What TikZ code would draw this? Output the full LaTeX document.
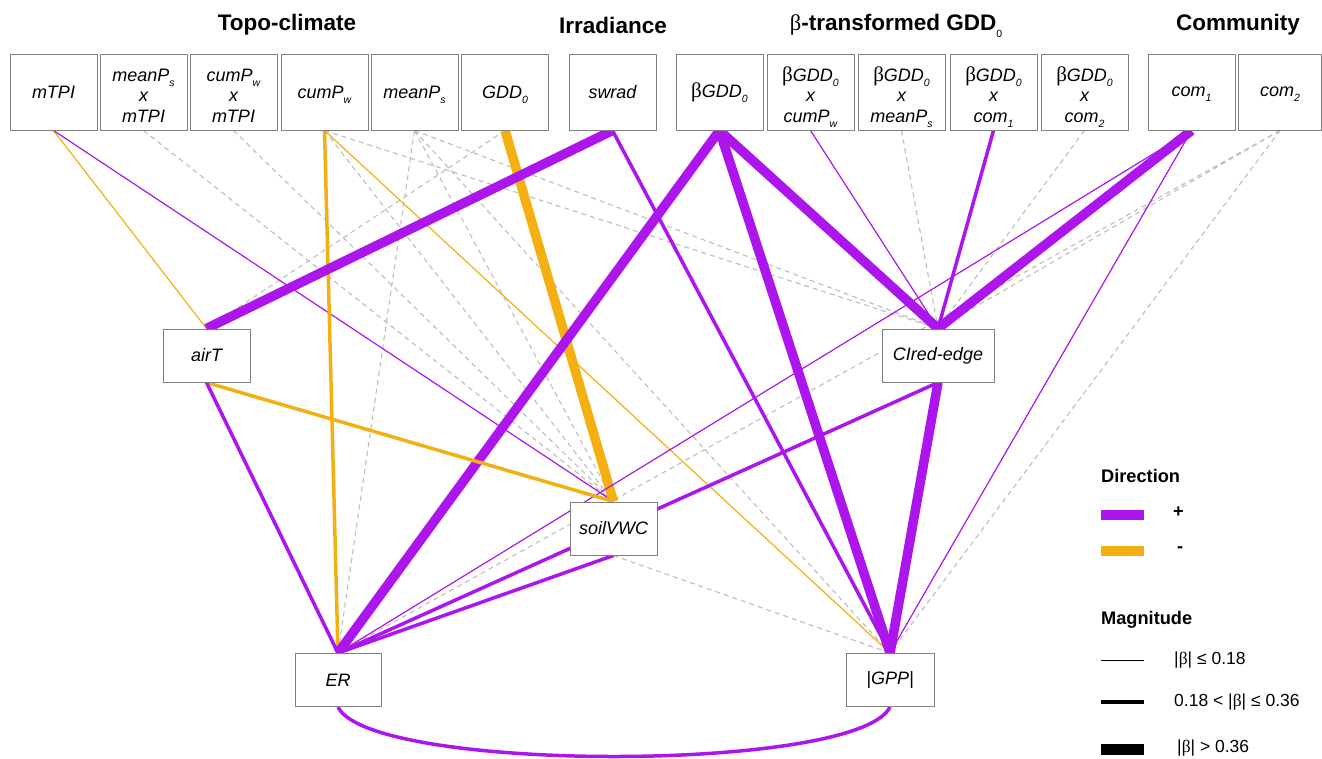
\documentclass[tikz,border=0pt]{standalone}
\usepackage{fontspec}
\setmainfont{Liberation Sans}
\newfontfamily\serifb{Liberation Serif}
\usetikzlibrary{backgrounds}
\definecolor{purp}{HTML}{AC16EC}
\definecolor{orng}{HTML}{F4B012}
\definecolor{nsgray}{HTML}{BDBDBD}
\definecolor{boxgray}{HTML}{7F7F7F}
\newcommand\mysub[1]{\smash{\raisebox{-0.55ex}{\fontsize{10.5}{10.5}\selectfont #1}}}
\newcommand\bet{{\serifb\upshape\fontsize{21}{21}\selectfont β}}
\newcommand\betsm{{\serifb\upshape β}}
\newcommand\dn{\rule{0pt}{19.5pt}}
\begin{document}
\begin{tikzpicture}[x=1pt,y=-1pt,
  topbox/.style={draw=boxgray, line width=1pt, fill=white, minimum width=87pt, minimum height=76pt, inner sep=0pt, align=center, font=\fontsize{18}{20.5}\selectfont\itshape},
  midbox/.style={topbox, minimum height=53pt},
  hdr/.style={font=\fontsize{22.5}{24}\selectfont\bfseries},
  legt/.style={anchor=west, inner sep=0pt, font=\fontsize{17.5}{20}\selectfont},
  legh/.style={anchor=west, inner sep=0pt, font=\fontsize{18.2}{20}\selectfont\bfseries},
  posl/.style={draw=purp}, negl/.style={draw=orng},
  wa/.style={line width=1.2pt}, wb/.style={line width=3.5pt}, wc/.style={line width=9.5pt},
  nsl/.style={draw=nsgray, line width=1.1pt, dash pattern=on 5pt off 4pt}]
\useasboundingbox (0,0) rectangle (1322,758);

% headers
\node[hdr] (hTopo) at (287,25) {Topo-climate};
\node[hdr] (hIrr) at (613,25) {Irradiance};
\node[hdr] (hBeta) at (896,25) {{\serifb\mdseries β}-transformed GDD\mysub{\mdseries 0}};
\node[hdr] (hCom) at (1238,25) {Community};

% top boxes
\node[topbox] (mTPI) at (53.5,92) {mTPI};
\node[topbox] (mPsmTPI) at (143.5,92) {\dn meanP\mysub{s}\\x\\mTPI};
\node[topbox] (cPwmTPI) at (233.5,92) {\dn cumP\mysub{w}\\x\\mTPI};
\node[topbox] (cumPw) at (324.5,92) {cumP\mysub{w}};
\node[topbox] (meanPs) at (414.5,92) {meanP\mysub{s}};
\node[topbox] (GDD) at (505,92) {GDD\mysub{0}};
\node[topbox] (swrad) at (612.5,92) {swrad};
\node[topbox] (bGDD) at (719.5,92) {\bet GDD\mysub{0}};
\node[topbox] (bGcPw) at (810.5,92) {\dn\bet GDD\mysub{0}\\x\\cumP\mysub{w}};
\node[topbox] (bGmPs) at (901.5,92) {\dn\bet GDD\mysub{0}\\x\\meanP\mysub{s}};
\node[topbox] (bGcomA) at (993.5,92) {\dn\bet GDD\mysub{0}\\x\\com\mysub{1}};
\node[topbox] (bGcomB) at (1084.5,92) {\dn\bet GDD\mysub{0}\\x\\com\mysub{2}};
\node[topbox] (comA) at (1191.5,92) {com\mysub{1}};
\node[topbox, minimum width=83pt] (comB) at (1280,92) {com\mysub{2}};

% response boxes
\node[midbox] (airT) at (206.5,355.5) {airT};
\node[midbox, minimum width=112pt] (CI) at (938,355.5) {CIred-edge};
\node[midbox] (soil) at (613.5,528.5) {soilVWC};
\node[midbox, minimum width=86pt] (ER) at (338,680) {ER};
\node[midbox, minimum width=88pt] (GPP) at (890,680) {|GPP|};

\begin{pgfonlayer}{background}
% non-significant paths
\draw[nsl] (mPsmTPI.south) -- (soil.north);
\draw[nsl] (cPwmTPI.south) -- (soil.north);
\draw[nsl] (cumPw.south) -- (soil.north);
\draw[nsl] (cumPw.south) -- (CI.north);
\draw[nsl] (meanPs.south) -- (ER.north);
\draw[nsl] (meanPs.south) -- (soil.north);
\draw[nsl] (meanPs.south) -- (CI.north);
\draw[nsl] (meanPs.south) -- (GPP.north);
\draw[nsl] (GDD.south) -- (airT.north);
\draw[nsl] (bGmPs.south) -- (CI.north);
\draw[nsl] (bGcomB.south) -- (CI.north);
\draw[nsl] (comB.south) -- (CI.north);
\draw[nsl] (comB.south) -- (ER.north);
\draw[nsl] (comB.south) -- (GPP.north);
\draw[nsl] (soil.south) -- (GPP.north);
% significant paths
\draw[negl,wa] (mTPI.south) -- (airT.north);
\draw[posl,wa] (mTPI.south) -- (soil.north);
\draw[negl,wb] (cumPw.south) -- (ER.north);
\draw[negl,wa] (cumPw.south) -- (GPP.north);
\draw[negl,wc] (GDD.south) -- (soil.north);
\draw[posl,wc] (swrad.south) -- (airT.north);
\draw[posl,wb] (swrad.south) -- (GPP.north);
\draw[posl,wc] (bGDD.south) -- (ER.north);
\draw[posl,wc] (bGDD.south) -- (GPP.north);
\draw[posl,wc] (bGDD.south) -- (CI.north);
\draw[posl,wa] (bGcPw.south) -- (CI.north);
\draw[posl,wb] (bGcomA.south) -- (CI.north);
\draw[posl,wc] (comA.south) -- (CI.north);
\draw[posl,wa] (comA.south) -- (ER.north);
\draw[posl,wa] (comA.south) -- (GPP.north);
\draw[negl,wb] (airT.south) -- (soil.north);
\draw[posl,wb] (airT.south) -- (ER.north);
\draw[posl,wb] (CI.south) -- (ER.north);
\draw[posl,wc] (CI.south) -- (GPP.north);
\draw[posl,wb] (soil.south) -- (ER.north);
\draw[posl,wb] (ER.south) .. controls (370,773) and (858,773) .. (GPP.south);
\end{pgfonlayer}

% legend
\node[legh] (lDir) at (1101,476) {Direction};
\coordinate (lpA) at (1101,515);
\coordinate (lpB) at (1144,515);
\draw[purp, line width=10pt] (lpA) -- (lpB);
\node[legh] (lPlus) at (1173,512) {+};
\coordinate (loA) at (1101,551);
\coordinate (loB) at (1144,551);
\draw[orng, line width=10pt] (loA) -- (loB);
\node[legh] (lMinus) at (1177,550) {-};
\node[legh] (lMag) at (1101,620) {Magnitude};
\coordinate (lmA1) at (1101,660);
\coordinate (lmB1) at (1144,660);
\draw[black, line width=1pt] (lmA1) -- (lmB1);
\node[legt] (lm1) at (1174,660) {|\betsm| ≤ 0.18};
\coordinate (lmA2) at (1101,702);
\coordinate (lmB2) at (1144,702);
\draw[black, line width=4pt] (lmA2) -- (lmB2);
\node[legt] (lm2) at (1174,702) {0.18 < |\betsm| ≤ 0.36};
\coordinate (lmA3) at (1101,749);
\coordinate (lmB3) at (1144,749);
\draw[black, line width=11pt] (lmA3) -- (lmB3);
\node[legt] (lm3) at (1177,748) {|\betsm| > 0.36};
\end{tikzpicture}
\end{document}
